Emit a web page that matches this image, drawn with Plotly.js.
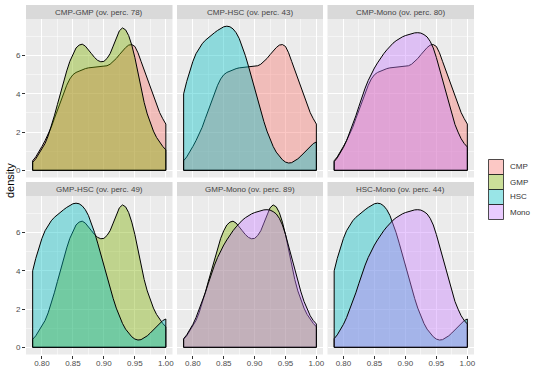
<!DOCTYPE html>
<html><head><meta charset="utf-8">
<script src="https://cdn.plot.ly/plotly-3.0.1.min.js"></script>
<style>html,body{margin:0;padding:0;background:#fff}#chart{width:540px;height:382px}</style>
</head><body><div id="chart"></div>
<script>
const xGrid = [0.785,0.790,0.795,0.800,0.805,0.810,0.815,0.820,0.825,0.830,0.835,0.840,0.845,0.850,0.855,0.860,0.865,0.870,0.875,0.880,0.885,0.890,0.895,0.900,0.905,0.910,0.915,0.920,0.925,0.930,0.935,0.940,0.945,0.950,0.955,0.960,0.965,0.970,0.975,0.980,0.985,0.990,0.995,1.000];
const dCMP = [0.50,0.70,0.95,1.25,1.55,1.88,2.25,2.70,3.15,3.60,4.05,4.45,4.78,5.00,5.12,5.20,5.27,5.32,5.36,5.38,5.39,5.40,5.41,5.43,5.47,5.55,5.68,5.85,6.05,6.25,6.42,6.55,6.58,6.48,6.15,5.70,5.25,4.78,4.30,3.85,3.42,3.02,2.70,2.42];
const dGMP = [0.42,0.60,0.85,1.10,1.40,1.80,2.30,2.85,3.45,4.05,4.65,5.20,5.70,6.10,6.40,6.55,6.60,6.50,6.32,6.10,5.90,5.75,5.68,5.70,5.85,6.10,6.50,6.95,7.30,7.45,7.35,7.05,6.55,5.90,5.10,4.30,3.55,2.95,2.45,2.05,1.72,1.45,1.25,1.07];
const dHSC = [4.00,4.65,5.20,5.70,6.10,6.40,6.62,6.80,6.95,7.08,7.20,7.32,7.43,7.51,7.54,7.51,7.40,7.20,6.90,6.50,6.00,5.45,4.85,4.25,3.65,3.10,2.55,2.05,1.62,1.25,0.95,0.72,0.55,0.43,0.38,0.40,0.48,0.60,0.75,0.92,1.10,1.27,1.40,1.48];
const dMono = [0.45,0.65,0.90,1.20,1.55,1.95,2.40,2.85,3.35,3.85,4.30,4.70,5.05,5.35,5.62,5.88,6.10,6.30,6.50,6.65,6.78,6.90,6.98,7.05,7.10,7.15,7.19,7.20,7.18,7.10,6.98,6.75,6.40,5.90,5.30,4.70,4.05,3.45,2.90,2.40,2.00,1.65,1.40,1.22];
const groups = ['CMP','GMP','HSC','Mono'];
const pairs = [['CMP','GMP'],['CMP','HSC'],['CMP','Mono'],['GMP','HSC'],['GMP','Mono'],['HSC','Mono']];
const overlapPct = [78,43,80,49,89,44];
const xTicks = [0.80,0.85,0.90,0.95,1.00];
const yTicks = [0,2,4,6];

const dens = {CMP:dCMP, GMP:dGMP, HSC:dHSC, Mono:dMono};
const rgb = {CMP:[248,118,109], GMP:[124,174,0], HSC:[0,191,196], Mono:[199,124,255]};
const alpha = 0.4;
const fillOf = g => `rgba(${rgb[g][0]},${rgb[g][1]},${rgb[g][2]},${alpha})`;

const W = 540, H = 382;
const colsPx = [[26,172.5],[177,323],[327.5,474]];
const rowsPx = [[19,177.5],[196,354.5]];
const stripPx = [[5,19],[182,196]];
const FONT = 'Liberation Sans, Arial, sans-serif';

const xmin = Math.min(...xGrid), xmax = Math.max(...xGrid);
const xpad = 0.05*(xmax-xmin);
const ymax = Math.max(...dCMP,...dGMP,...dHSC,...dMono);
const xRange = [xmin-xpad, xmax+xpad];
const yRange = [-0.05*ymax, ymax*1.05];

const traces = [];
const layout = {
  width: W, height: H,
  margin: {l:0,r:0,t:0,b:0},
  paper_bgcolor: '#FFFFFF',
  plot_bgcolor: '#EBEBEB',
  showlegend: false,
  font: {family: FONT, size: 8, color: '#4D4D4D'},
  shapes: [], annotations: []
};

pairs.forEach((pr, i) => {
  const row = Math.floor(i/3), col = i%3;
  const sfx = i === 0 ? '' : String(i+1);
  const xa = 'x'+sfx, ya = 'y'+sfx;
  pr.forEach(g => {
    const d = dens[g];
    traces.push({
      type: 'scatter', mode: 'lines',
      x: [xGrid[0], ...xGrid, xGrid[xGrid.length-1], xGrid[0]],
      y: [0, ...d, 0, 0],
      fill: 'toself', fillcolor: fillOf(g),
      line: {color: '#000000', width: 1},
      xaxis: xa, yaxis: ya, hoverinfo: 'skip', showlegend: false
    });
  });
  const bottom = row === 1, left = col === 0;
  layout['xaxis'+sfx] = {
    domain: [colsPx[col][0]/W, colsPx[col][1]/W],
    anchor: ya, range: xRange, tickvals: xTicks, ticktext: xTicks.map(v=>v.toFixed(2)),
    showticklabels: bottom, ticks: bottom ? 'outside' : '', ticklen: 3, tickwidth: 1, tickcolor: '#333333',
    ticklabelstandoff: -2,
    showgrid: true, gridcolor: '#FFFFFF', gridwidth: 1,
    minor: {tickvals: [0.775,0.825,0.875,0.925,0.975], showgrid: true, gridcolor: '#FFFFFF', gridwidth: 0.5, ticks: ''},
    zeroline: false, showline: false, fixedrange: true,
    tickfont: {family: FONT, size: 8, color: '#4D4D4D'}
  };
  layout['yaxis'+sfx] = {
    domain: [1 - rowsPx[row][1]/H, 1 - rowsPx[row][0]/H],
    anchor: xa, range: yRange, tickvals: yTicks,
    showticklabels: left, ticks: left ? 'outside' : '', ticklen: 3, tickwidth: 1, tickcolor: '#333333',
    showgrid: true, gridcolor: '#FFFFFF', gridwidth: 1,
    minor: {tickvals: [1,3,5,7], showgrid: true, gridcolor: '#FFFFFF', gridwidth: 0.5, ticks: ''},
    zeroline: false, showline: false, fixedrange: true,
    tickfont: {family: FONT, size: 8, color: '#4D4D4D'}
  };
  // strip
  layout.shapes.push({type:'rect', xref:'paper', yref:'paper',
    x0: colsPx[col][0]/W, x1: colsPx[col][1]/W,
    y0: 1 - stripPx[row][1]/H, y1: 1 - stripPx[row][0]/H,
    fillcolor: '#D9D9D9', line: {width: 0}});
  layout.annotations.push({xref:'paper', yref:'paper',
    x: (colsPx[col][0]+colsPx[col][1])/2/W, y: 1 - (stripPx[row][0]+stripPx[row][1])/2/H,
    text: `${pr[0]}-${pr[1]} (ov. perc. ${overlapPct[i]})`, showarrow: false,
    xanchor: 'center', yanchor: 'middle',
    font: {family: FONT, size: 8, color: '#444444'}});
});

// y title
layout.annotations.push({xref:'paper', yref:'paper', x: 10/W, y: 1 - 181/H,
  text: 'density', textangle: -90, showarrow: false, xanchor:'center', yanchor:'middle',
  font: {family: FONT, size: 11, color: '#000000'}});

// legend
const keyX0 = 488.5, keyX1 = 503.5, keyY0 = 159.5, keyH = 15;
groups.forEach((g, k) => {
  const y0 = keyY0 + k*keyH, y1 = y0 + keyH;
  layout.shapes.push({type:'rect', xref:'paper', yref:'paper',
    x0: keyX0/W, x1: keyX1/W, y0: 1 - y1/H, y1: 1 - y0/H,
    fillcolor: fillOf(g), line: {color: '#222222', width: 0.8}});
  layout.annotations.push({xref:'paper', yref:'paper', x: 507.5/W, y: 1 - (y0+y1)/2/H,
    text: g, showarrow: false, xanchor: 'left', yanchor: 'middle',
    font: {family: FONT, size: 8, color: '#333333'}});
});

Plotly.newPlot('chart', traces, layout, {displayModeBar: false, staticPlot: true});
</script>
</body></html>
